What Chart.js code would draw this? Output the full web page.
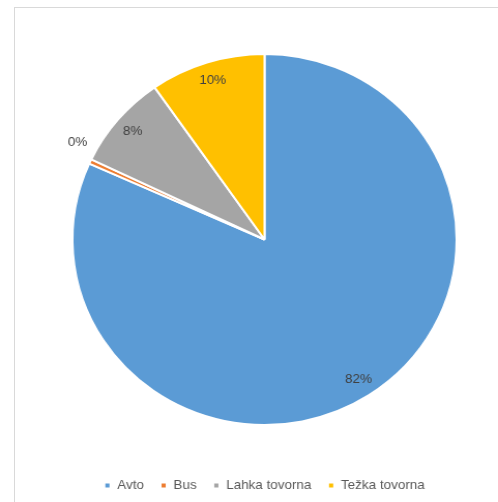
<!DOCTYPE html>
<html>
<head>
<meta charset="utf-8">
<script src="https://cdn.jsdelivr.net/npm/chart.js@4.4.0/dist/chart.umd.min.js"></script>
<style>
  html, body { margin: 0; padding: 0; background: #fff; overflow: hidden; }
  #frame {
    position: absolute; left: 14px; top: 7px; width: 600px; height: 600px;
    border-left: 1px solid #d9d9d9; border-top: 1px solid #d9d9d9;
  }
  #wrap { position: absolute; left: 0; top: 0; width: 498px; height: 502px; }
  #pie-chart { width: 498px !important; height: 502px !important; }
</style>
</head>
<body>
<div id="frame"></div>
<div id="wrap"><canvas id="pie-chart" width="481" height="502"></canvas></div>
<script>
// Deleži vozil
var categories = ['Avto', 'Bus', 'Lahka tovorna', 'Težka tovorna'];
var values = [81.7, 0.4, 8.2, 9.7];
var colors = ['#5B9BD5', '#ED7D31', '#A5A5A5', '#FFC000'];

// percentage labels, inside the slice (outside for very small ones)
var pctLabels = {
  id: 'pctLabels',
  afterDatasetsDraw: function (chart) {
    var ctx = chart.ctx;
    var meta = chart.getDatasetMeta(0);
    var total = values.reduce(function (a, b) { return a + b; }, 0);
    ctx.save();
    ctx.font = '13px "Liberation Sans", Arial, sans-serif';
    ctx.fillStyle = '#404040';
    ctx.textAlign = 'center';
    ctx.textBaseline = 'middle';
    meta.data.forEach(function (arc, i) {
      var pct = values[i] / total * 100;
      var mid = (arc.startAngle + arc.endAngle) / 2;
      var r = pct < 2 ? arc.outerRadius * 1.12 : arc.outerRadius * 0.9;
      var x = arc.x + Math.cos(mid) * r;
      var y = arc.y + Math.sin(mid) * r;
      if (pct < 2) { x += 8; y -= 10; }
      ctx.fillText(Math.round(pct) + '%', x, y);
    });
    ctx.restore();
  }
};

var ctx = document.getElementById('pie-chart').getContext('2d');
var pieChart = new Chart(ctx, {
  type: 'pie',
  data: {
    labels: categories,
    datasets: [{
      data: values,
      backgroundColor: colors,
      borderColor: '#ffffff',
      borderWidth: 2
    }]
  },
  options: {
    responsive: false,
    animation: false,
    layout: {
      padding: { left: 30, right: 0, top: 53, bottom: 0 }
    },
    plugins: {
      legend: {
        position: 'bottom',
        title: { display: true, text: ' ', font: { size: 10 }, padding: { top: 0, bottom: 25 } },
        labels: {
          boxWidth: 6,
          boxHeight: 6,
          padding: 16,
          color: '#595959',
          font: { family: '"Liberation Sans", Arial, sans-serif', size: 13 }
        }
      },
      tooltip: { enabled: false }
    }
  },
  plugins: [pctLabels]
});
</script>
</body>
</html>
